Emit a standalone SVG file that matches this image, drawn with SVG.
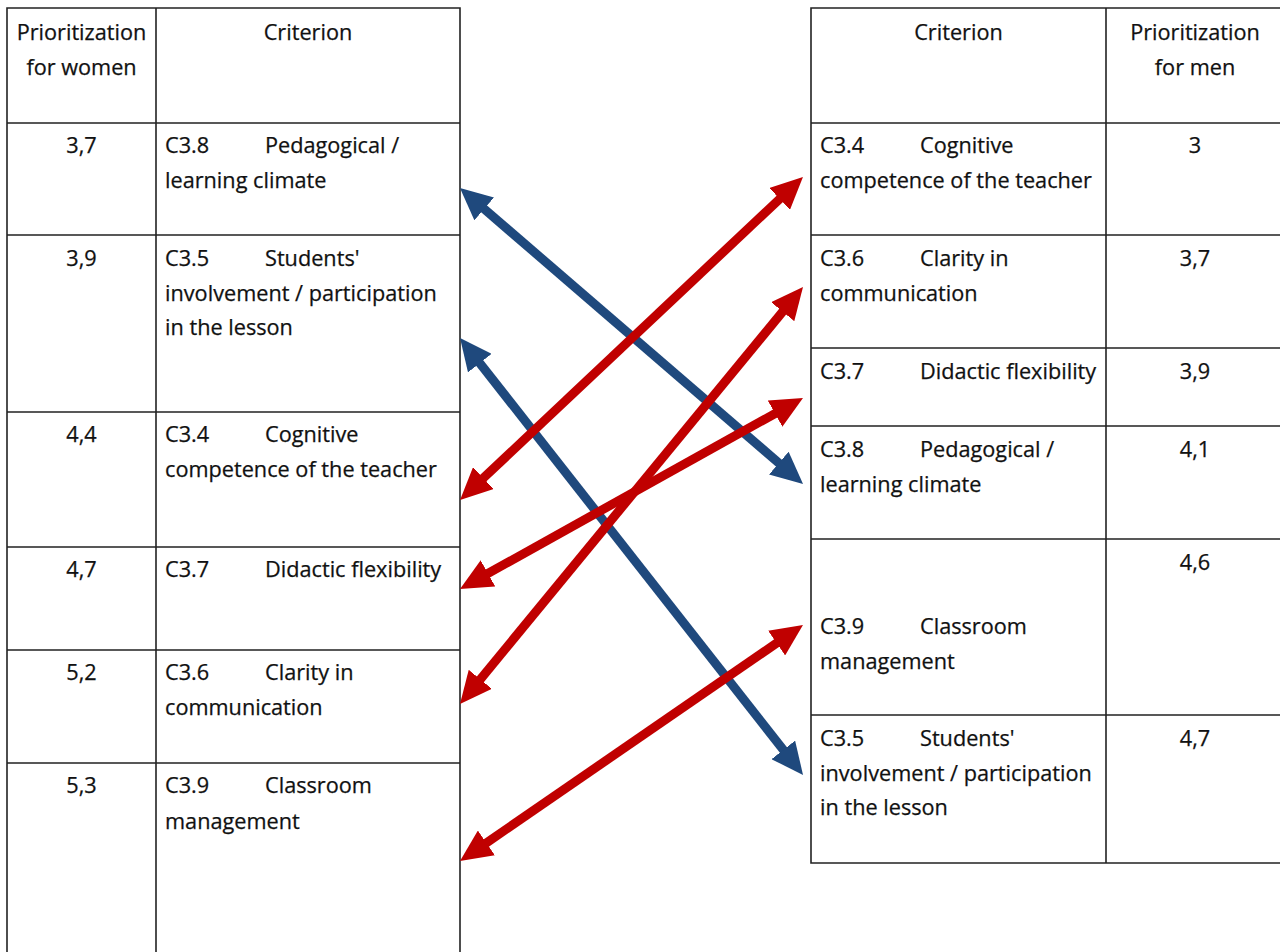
<svg xmlns="http://www.w3.org/2000/svg" width="1280" height="952" viewBox="0 0 1280 952">
  <style>
    text { font-family: "Open Sans", "Liberation Sans", sans-serif; font-size: 21.7px; fill: #111111; stroke: #111111; stroke-width: 0.25; }
    .c { text-anchor: middle; }
    .grid { fill: none; stroke: #222; stroke-width: 1.6; }
    .blue { stroke: #1F497D; stroke-width: 9; fill: none; marker-start: url(#headBlue); marker-end: url(#headBlue); }
    .red { stroke: #C00000; stroke-width: 9; fill: none; marker-start: url(#headRed); marker-end: url(#headRed); }
  </style>
  <defs>
    <marker id="headBlue" viewBox="0 0 32 30" refX="12" refY="15" markerWidth="32" markerHeight="30" markerUnits="userSpaceOnUse" orient="auto-start-reverse">
      <path d="M0,0 L32,15 L0,30 Z" fill="#1F497D"/>
    </marker>
    <marker id="headRed" viewBox="0 0 32 30" refX="12" refY="15" markerWidth="32" markerHeight="30" markerUnits="userSpaceOnUse" orient="auto-start-reverse">
      <path d="M0,0 L32,15 L0,30 Z" fill="#C00000"/>
    </marker>
  </defs>
  <rect width="1280" height="952" fill="#ffffff"/>

  <!-- Left table: ranking for women -->
  <g id="women-table">
    <path class="grid" d="M7,960 V8 H460 V960 M156,8 V960 M7,123 H460 M7,235 H460 M7,412 H460 M7,547 H460 M7,650 H460 M7,763 H460"/>
    <g id="women-header">
      <text class="c" x="81.5" y="40">Prioritization</text>
      <text class="c" x="81.5" y="75">for women</text>
      <text class="c" x="308" y="40">Criterion</text>
    </g>
    <g id="women-c38">
      <text class="c" x="81.5" y="153">3,7</text>
      <text x="165" y="153">C3.8</text><text x="265" y="153">Pedagogical /</text>
      <text x="165" y="188">learning climate</text>
    </g>
    <g id="women-c35">
      <text class="c" x="81.5" y="266">3,9</text>
      <text x="165" y="266">C3.5</text><text x="265" y="266">Students'</text>
      <text x="165" y="301">involvement / participation</text>
      <text x="165" y="335">in the lesson</text>
    </g>
    <g id="women-c34">
      <text class="c" x="81.5" y="442">4,4</text>
      <text x="165" y="442">C3.4</text><text x="265" y="442">Cognitive</text>
      <text x="165" y="477">competence of the teacher</text>
    </g>
    <g id="women-c37">
      <text class="c" x="81.5" y="577">4,7</text>
      <text x="165" y="577">C3.7</text><text x="265" y="577">Didactic flexibility</text>
    </g>
    <g id="women-c36">
      <text class="c" x="81.5" y="680">5,2</text>
      <text x="165" y="680">C3.6</text><text x="265" y="680">Clarity in</text>
      <text x="165" y="715">communication</text>
    </g>
    <g id="women-c39">
      <text class="c" x="81.5" y="793">5,3</text>
      <text x="165" y="793">C3.9</text><text x="265" y="793">Classroom</text>
      <text x="165" y="829">management</text>
    </g>
  </g>

  <!-- Right table: ranking for men -->
  <g id="men-table">
    <path class="grid" d="M1290,8 H811 V863 H1290 M1106,8 V863 M811,123 H1290 M811,235 H1290 M811,348 H1290 M811,426 H1290 M811,539 H1290 M811,715 H1290"/>
    <g id="men-header">
      <text class="c" x="958.5" y="40">Criterion</text>
      <text class="c" x="1195" y="40">Prioritization</text>
      <text class="c" x="1195" y="75">for men</text>
    </g>
    <g id="men-c34">
      <text x="820" y="153">C3.4</text><text x="920" y="153">Cognitive</text>
      <text x="820" y="188">competence of the teacher</text>
      <text class="c" x="1195" y="153">3</text>
    </g>
    <g id="men-c36">
      <text x="820" y="266">C3.6</text><text x="920" y="266">Clarity in</text>
      <text x="820" y="301">communication</text>
      <text class="c" x="1195" y="266">3,7</text>
    </g>
    <g id="men-c37">
      <text x="820" y="379">C3.7</text><text x="920" y="379">Didactic flexibility</text>
      <text class="c" x="1195" y="379">3,9</text>
    </g>
    <g id="men-c38">
      <text x="820" y="457">C3.8</text><text x="920" y="457">Pedagogical /</text>
      <text x="820" y="492">learning climate</text>
      <text class="c" x="1195" y="457">4,1</text>
    </g>
    <g id="men-c39">
      <text class="c" x="1195" y="570">4,6</text>
      <text x="820" y="634">C3.9</text><text x="920" y="634">Classroom</text>
      <text x="820" y="669">management</text>
    </g>
    <g id="men-c35">
      <text x="820" y="746">C3.5</text><text x="920" y="746">Students'</text>
      <text x="820" y="781">involvement / participation</text>
      <text x="820" y="815">in the lesson</text>
      <text class="c" x="1195" y="746">4,7</text>
    </g>
  </g>

  <!-- Connectors between matching criteria -->
  <g id="connectors">
    <line class="blue" x1="475.1" y1="201.1" x2="787.9" y2="470.9"/>
    <line class="blue" x1="472.4" y1="353.7" x2="790.7" y2="759.3"/>
    <line class="red" x1="474.6" y1="486.3" x2="788.4" y2="190.7"/>
    <line class="red" x1="472.7" y1="688.6" x2="790.3" y2="302.4"/>
    <line class="red" x1="477.5" y1="579.3" x2="785.5" y2="407.7"/>
    <line class="red" x1="476.5" y1="849.7" x2="786.5" y2="636.3"/>
  </g>
</svg>
